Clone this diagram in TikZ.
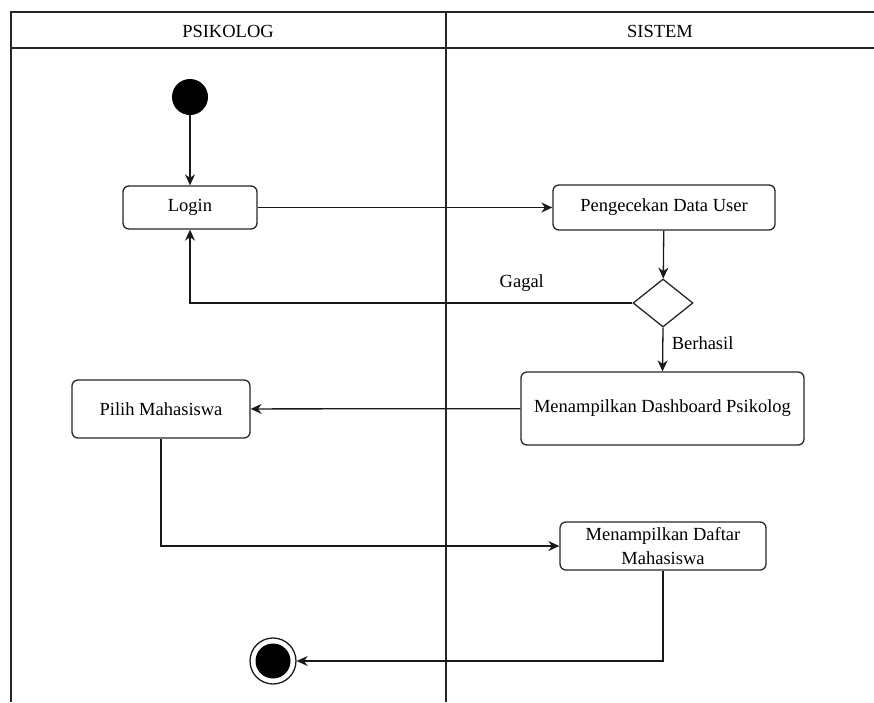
\documentclass[tikz,border=0pt]{standalone}
\usepackage{fontspec}
\setmainfont{Liberation Serif}
\usetikzlibrary{arrows.meta,shapes.geometric}
\begin{document}
\begin{tikzpicture}[x=1pt,y=-1pt,
  font=\fontsize{18.5}{24}\selectfont,
  lane/.style={line width=1.4pt,draw=black!85},
  act/.style={draw=black!85,line width=1.3pt,rounded corners=6pt,align=center,inner sep=0pt},
  flow/.style={line width=1.3pt,draw=black!90,-{Stealth[length=11pt,width=10pt]}},
  startnode/.style={circle,fill=black,inner sep=0pt,minimum size=36pt},
  decision/.style={diamond,draw=black!85,line width=1.3pt,inner sep=0pt,minimum width=60pt,minimum height=48pt}
]
\useasboundingbox (0,0) rectangle (874,702);
% swimlane frame
\draw[lane] (874,12) -- (11,12) -- (11,702);
\draw[lane] (11,48) -- (874,48);
\draw[lane] (446,12) -- (446,702);
\node (h1) at (228,31) {PSIKOLOG};
\node (h2) at (660,31) {SISTEM};

% nodes
\node[startnode] (start) at (190,97) {};
\node[act,minimum width=134pt,minimum height=43pt] (login) at (190,207.5) {Login};
\node[act,minimum width=222pt,minimum height=45pt] (cek) at (664,207.5) {Pengecekan Data User};
\node[decision] (dec) at (663,303) {};
\node[act,minimum width=283pt,minimum height=73pt] (dash) at (662.5,408.5) {Menampilkan Dashboard Psikolog};
\node[act,minimum width=178pt,minimum height=58pt] (pilih) at (161,409) {Pilih Mahasiswa};
\node[act,minimum width=206pt,minimum height=48pt] (daftar) at (663,546) {Menampilkan Daftar\\Mahasiswa};
\node[circle,draw=black!90,line width=1.3pt,minimum size=46pt,inner sep=0pt] (stop) at (273,661) {};
\node[circle,fill=black,minimum size=35pt,inner sep=0pt] (stopin) at (273,661) {};

% connectors
\draw[flow] (start) -- (login);
\draw[flow] (login) -- (cek);
\draw[flow] (cek) -- (dec);
\draw[flow] (dec.west) -| node[pos=0.125,above=8pt] {Gagal} (login.south);
\draw[flow] (dec.south) -- node[right=5pt,pos=0.35] {Berhasil} (dash.north);
\draw[flow] (dash) -- (pilih);
\draw[flow] (pilih.south) |- (daftar.west);
\draw[flow] (daftar.south) |- (stop.east);
\end{tikzpicture}
\end{document}
